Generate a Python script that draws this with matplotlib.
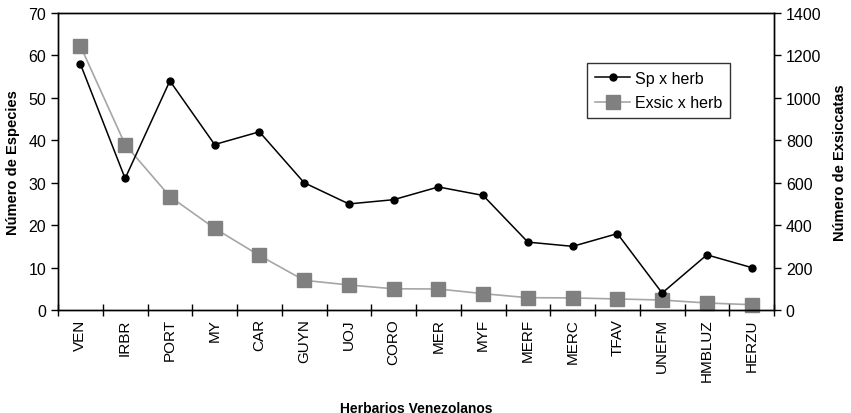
import matplotlib
matplotlib.use("Agg")
import matplotlib.pyplot as plt

herbarios = ["VEN", "IRBR", "PORT", "MY", "CAR", "GUYN", "UOJ", "CORO",
             "MER", "MYF", "MERF", "MERC", "TFAV", "UNEFM", "HMBLUZ", "HERZU"]
especies = [58, 31, 54, 39, 42, 30, 25, 26, 29, 27, 16, 15, 18, 4, 13, 10]
exsiccatas = [1245, 780, 535, 385, 257, 140, 118, 100, 99, 77, 58, 57, 52, 47, 33, 25]

plt.rcParams['font.family'] = ['Liberation Sans', 'DejaVu Sans']

fig = plt.figure(figsize=(8.51, 4.14), dpi=100)
ax = fig.add_axes([58 / 851, 1 - 311 / 414, 716 / 851, 297 / 414])
ax2 = ax.twinx()

x = list(range(len(herbarios)))

# Exsiccatas on right axis (drawn under the species line)
l2, = ax2.plot(x, exsiccatas, color='#a6a6a6', linewidth=1.2, marker='s',
               markersize=10, markerfacecolor='#808080', markeredgecolor='#808080',
               label='Exsic x herb', clip_on=False)
l1, = ax.plot(x, especies, color='black', linewidth=1.1, marker='o',
              markersize=5, label='Sp x herb', clip_on=False)
ax.set_zorder(ax2.get_zorder() + 1)
ax.patch.set_visible(False)

ax.set_xlim(-0.5, len(herbarios) - 0.5)
ax.set_ylim(0, 70)
ax2.set_ylim(0, 1400)
ax.set_yticks(range(0, 71, 10))
ax2.set_yticks(range(0, 1401, 200))

ax.set_xticks(x)
ax.set_xticklabels(herbarios, rotation=90, fontsize=11)
ax.set_xticks([i - 0.5 for i in range(len(herbarios) + 1)], minor=True)
ax.tick_params(axis='x', which='major', length=0, pad=6)
ax.tick_params(axis='x', which='minor', direction='inout', length=8, width=1)
ax.tick_params(axis='y', direction='out', length=5, width=1, labelsize=11.5)
ax2.tick_params(axis='y', direction='out', length=5, width=1, labelsize=11.5)

for a in (ax, ax2):
    for s in a.spines.values():
        s.set_linewidth(1)

ax.set_ylabel('Número de Especies', fontsize=10.5, fontweight='bold', labelpad=6)
ax2.set_ylabel('Número de Exsiccatas', fontsize=10.5, fontweight='bold', labelpad=8)
ax.set_xlabel('Herbarios Venezolanos', fontsize=10, fontweight='bold',
              family=['Liberation Sans Narrow', 'Liberation Sans'], labelpad=14)

leg = ax.legend(handles=[l1, l2], loc='upper left', bbox_to_anchor=(0.728, 0.86),
                fontsize=11.5, frameon=True, fancybox=False, edgecolor='black',
                handlelength=2.2, borderpad=0.5, labelspacing=0.6, handletextpad=0.3)
leg.get_frame().set_linewidth(1)

fig.savefig('out.png', dpi=100)
